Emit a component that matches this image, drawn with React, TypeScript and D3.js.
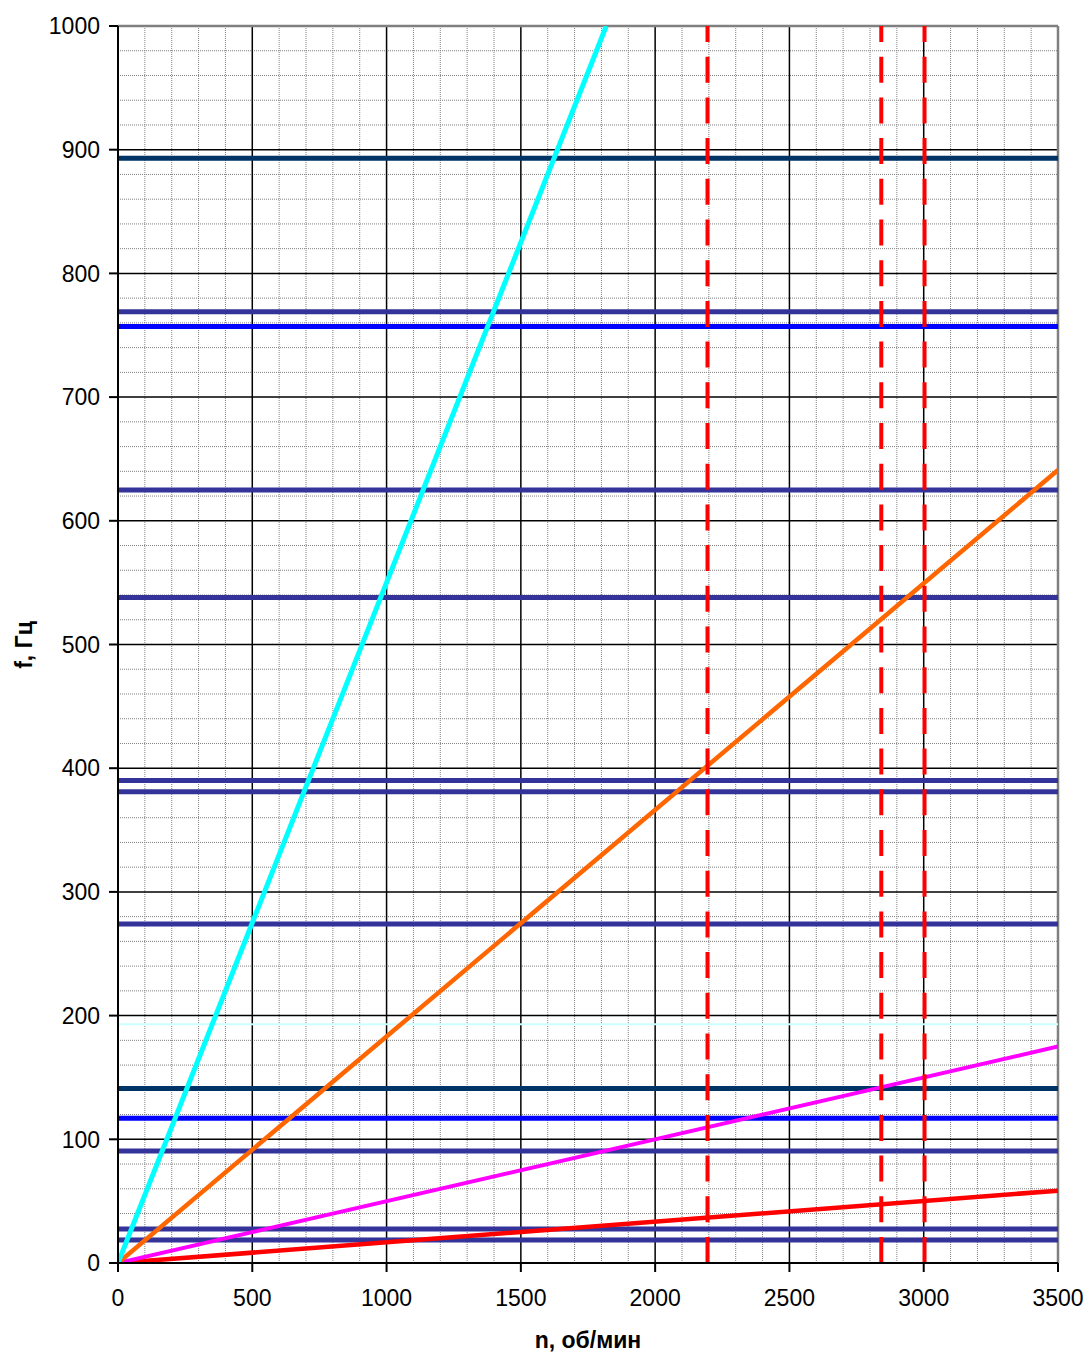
import React from "react";
import * as d3 from "d3";

// ---- data ----
const xTicks = [0, 500, 1000, 1500, 2000, 2500, 3000, 3500];
const yTicks = [0, 100, 200, 300, 400, 500, 600, 700, 800, 900, 1000];
const xMinorStep = 100;
const yMinorStep = 20;

// horizontal frequency levels (Hz) and their colours
const levelValues = [893, 769, 757, 625, 538, 390, 381, 274, 193, 141, 117, 90.5, 27.5, 18.5];
const levelColors = [
  "#003366", "#333399", "#0000FF", "#333399", "#333399", "#333399", "#333399",
  "#333399", "#CCFFFF", "#003366", "#0000FF", "#333399", "#333399", "#333399",
];

// rays from origin: rpm -> frequency
const cyanN = [0, 1818];
const cyanF = [0, 1000];
const orangeN = [0, 3500];
const orangeF = [0, 641];
const magentaN = [0, 3500];
const magentaF = [0, 175];
const redN = [0, 3500];
const redF = [0, 58.5];

// operating speeds (dashed verticals)
const speedValues = [2195, 2842, 3003];

const W = 1086;
const H = 1353;
const left = 118;
const right = 1058;
const top = 26;
const bottom = 1263;

export default function App() {
  const x = d3.scaleLinear().domain([0, 3500]).range([left, right]);
  const y = d3.scaleLinear().domain([0, 1000]).range([bottom, top]);

  const xMinor = d3.range(0, 3500 + 1, xMinorStep).filter((v) => v % 500 !== 0);
  const yMinor = d3.range(0, 1000 + 1, yMinorStep).filter((v) => v % 100 !== 0);

  const line = d3
    .line<[number, number]>()
    .x((d) => x(d[0]))
    .y((d) => y(d[1]));

  const rays = [
    { n: redN, f: redF, color: "#FF0000", w: 4.5 },
    { n: magentaN, f: magentaF, color: "#FF00FF", w: 4 },
    { n: orangeN, f: orangeF, color: "#FF6600", w: 4.5 },
    { n: cyanN, f: cyanF, color: "#00FFFF", w: 5 },
  ];

  const font = "Arial, 'Liberation Sans', sans-serif";

  return (
    <div style={{ position: "absolute", left: 0, top: 0 }}>
      <svg width={W} height={H} style={{ display: "block", background: "#fff" }}>
        <defs>
          <clipPath id="plotClip">
            <rect x={left} y={top} width={right - left} height={bottom - top} />
          </clipPath>
        </defs>
        {/* minor grid */}
        {xMinor.map((v) => (
          <line key={"xm" + v} x1={x(v)} x2={x(v)} y1={top} y2={bottom}
            stroke="#808080" strokeWidth={1} strokeDasharray="1,1" />
        ))}
        {yMinor.map((v) => (
          <line key={"ym" + v} x1={left} x2={right} y1={y(v)} y2={y(v)}
            stroke="#808080" strokeWidth={1} strokeDasharray="1,1" />
        ))}
        {/* major grid */}
        {xTicks.slice(1, -1).map((v) => (
          <line key={"xM" + v} x1={x(v)} x2={x(v)} y1={top} y2={bottom}
            stroke="#000" strokeWidth={1.5} />
        ))}
        {yTicks.slice(1, -1).map((v) => (
          <line key={"yM" + v} x1={left} x2={right} y1={y(v)} y2={y(v)}
            stroke="#000" strokeWidth={1.5} />
        ))}
        {/* plot border top/right */}
        <line x1={left} x2={right} y1={top} y2={top} stroke="#808080" strokeWidth={2.5} />
        <line x1={right} x2={right} y1={top} y2={bottom} stroke="#808080" strokeWidth={2.5} />

        <g clipPath="url(#plotClip)">
          {/* horizontal levels */}
          {levelValues.map((v, i) => (
            <line key={"lv" + i} x1={left} x2={right} y1={y(v)} y2={y(v)}
              stroke={levelColors[i]} strokeWidth={levelColors[i] === "#CCFFFF" ? 2 : 5} />
          ))}
          {/* rays */}
          {rays.map((r, i) => (
            <path key={"ray" + i}
              d={line(r.n.map((n, j) => [n, r.f[j]] as [number, number])) || ""}
              fill="none" stroke={r.color} strokeWidth={r.w} />
          ))}
          {/* dashed speeds */}
          {speedValues.map((v) => (
            <line key={"sp" + v} x1={x(v)} x2={x(v)} y1={bottom} y2={top}
              stroke="#FF0000" strokeWidth={4} strokeDasharray="26,14.7" />
          ))}
        </g>

        {/* axes */}
        <line x1={left} x2={left} y1={top} y2={bottom} stroke="#000" strokeWidth={2} />
        <line x1={left} x2={right} y1={bottom} y2={bottom} stroke="#000" strokeWidth={2} />
        {yTicks.map((v) => (
          <g key={"yt" + v}>
            <line x1={left - 9} x2={left} y1={y(v)} y2={y(v)} stroke="#000" strokeWidth={2} />
            <text x={100} y={y(v)} dy="0.36em" textAnchor="end" fontFamily={font} fontSize={23} fill="#000">
              {v}
            </text>
          </g>
        ))}
        {xTicks.map((v) => (
          <g key={"xt" + v}>
            <line x1={x(v)} x2={x(v)} y1={bottom} y2={bottom + 9} stroke="#000" strokeWidth={2} />
            <text x={x(v)} y={1306} textAnchor="middle" fontFamily={font} fontSize={23} fill="#000">
              {v}
            </text>
          </g>
        ))}
        <text x={588} y={1348} textAnchor="middle" fontFamily={font} fontSize={23} fontWeight="bold">
          n, об/мин
        </text>
        <text transform="translate(32,645) rotate(-90)" textAnchor="middle" fontFamily={font} fontSize={23} fontWeight="bold">
          f, Гц
        </text>
      </svg>
    </div>
  );
}
